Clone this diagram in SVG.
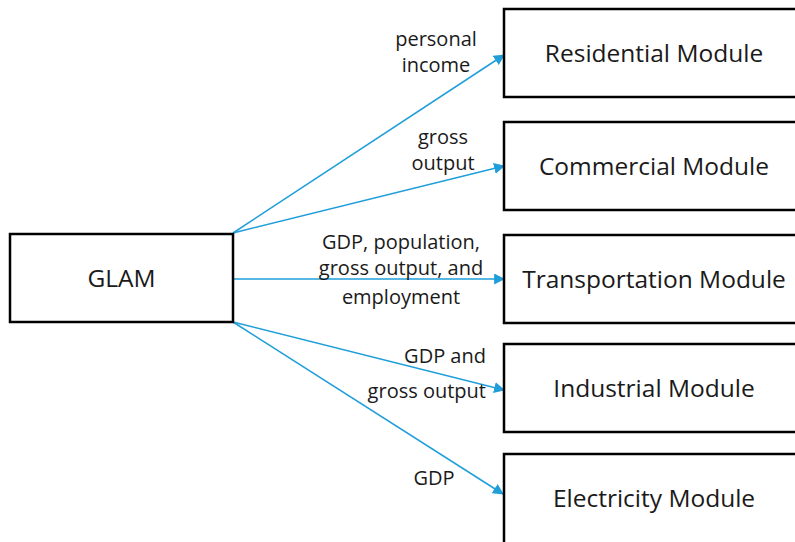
<svg xmlns="http://www.w3.org/2000/svg" width="795" height="542" viewBox="0 0 795 542">
<style>
.box{fill:#fff;stroke:#000;stroke-width:2.5}
.t{font-family:"Open Sans","Noto Sans",sans-serif;font-size:24.5px;fill:#1a1a1a;text-anchor:middle}
.l{font-family:"Open Sans","Noto Sans",sans-serif;font-size:20px;fill:#1a1a1a;text-anchor:middle}
.c{stroke:#1f9ed9;stroke-width:1.5;fill:none;marker-end:url(#a)}
</style>
<defs>
<marker id="a" viewBox="0 0 10 10" refX="9" refY="5" markerWidth="11" markerHeight="11" markerUnits="userSpaceOnUse" orient="auto">
<path d="M0,0 L10,5 L0,10 z" fill="#1f9ed9"/>
</marker>
</defs>
<rect width="795" height="542" fill="#fff"/>
<g id="connectors">
<line class="c" x1="233" y1="233" x2="504" y2="55"/>
<line class="c" x1="233" y1="233" x2="504" y2="166"/>
<line class="c" x1="233" y1="279" x2="504" y2="279"/>
<line class="c" x1="233" y1="322" x2="504" y2="390"/>
<line class="c" x1="233" y1="322" x2="503" y2="494"/>
</g>
<g id="labels">
<text class="l" x="436" y="46">personal</text>
<text class="l" x="436" y="72">income</text>
<text class="l" x="443" y="144">gross</text>
<text class="l" x="443" y="170">output</text>
<text class="l" x="401" y="249">GDP, population,</text>
<text class="l" x="401" y="275">gross output, and</text>
<text class="l" x="401" y="304">employment</text>
<text class="l" x="486" y="363" style="text-anchor:end">GDP and</text>
<text class="l" x="486" y="398" style="text-anchor:end">gross output</text>
<text class="l" x="434" y="485">GDP</text>
</g>
<g id="glam"><rect class="box" x="10" y="234" width="223" height="88"/><text class="t" x="121.5" y="287">GLAM</text></g>
<g id="residential"><rect class="box" x="504" y="9" width="300" height="88"/><text class="t" x="654" y="62">Residential Module</text></g>
<g id="commercial"><rect class="box" x="504" y="122" width="300" height="88"/><text class="t" x="654" y="175">Commercial Module</text></g>
<g id="transportation"><rect class="box" x="504" y="235" width="300" height="88"/><text class="t" x="654" y="288">Transportation Module</text></g>
<g id="industrial"><rect class="box" x="504" y="344" width="300" height="88"/><text class="t" x="654" y="397">Industrial Module</text></g>
<g id="electricity"><rect class="box" x="504" y="454" width="300" height="100"/><text class="t" x="654" y="507">Electricity Module</text></g>
</svg>
